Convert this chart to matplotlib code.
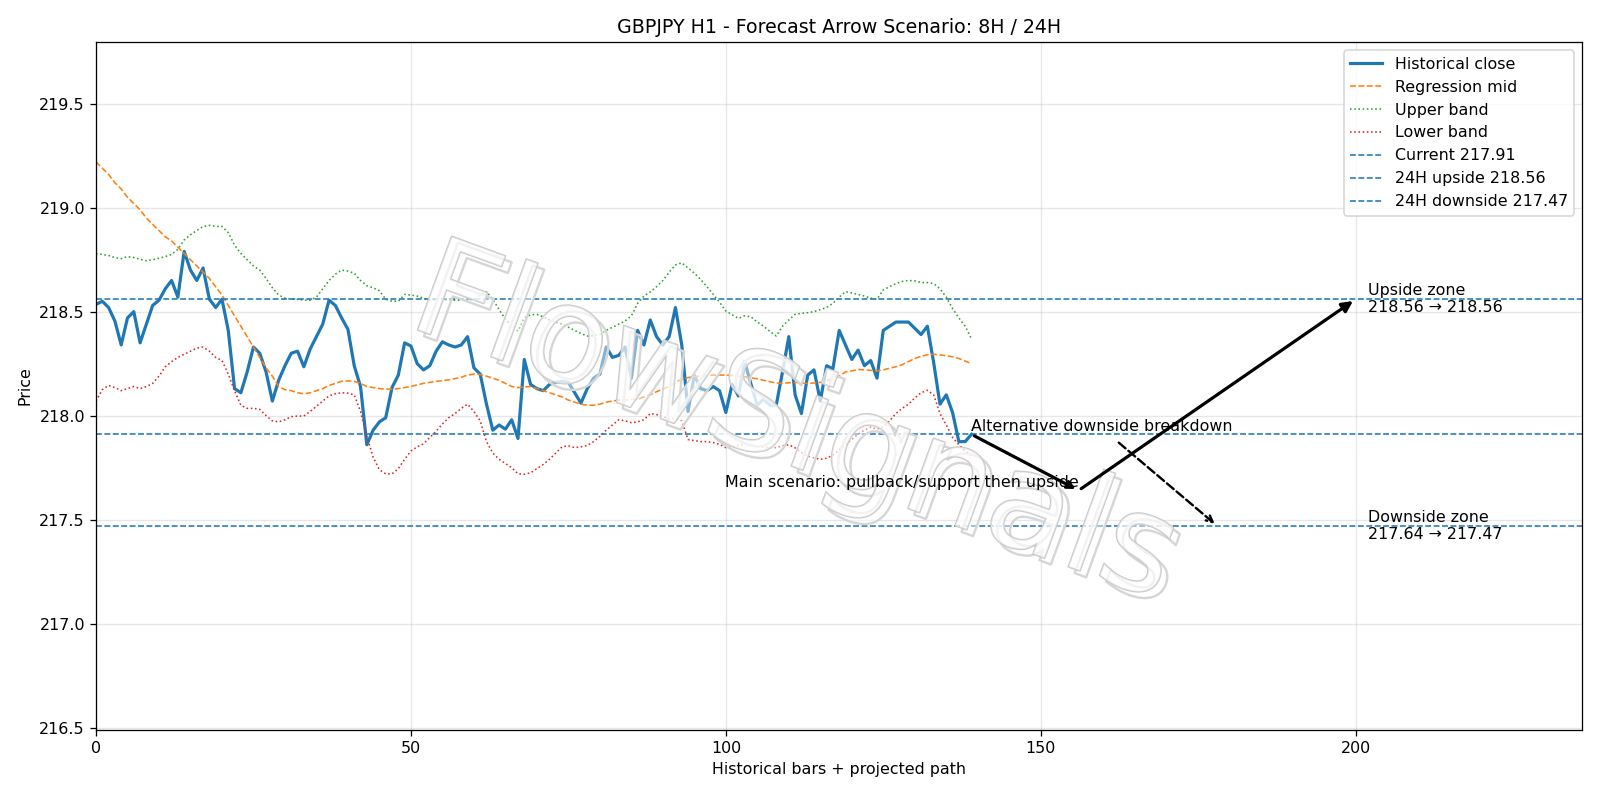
import matplotlib
matplotlib.use("Agg")
import matplotlib.pyplot as plt
import matplotlib.patheffects as pe

# 历史收盘价 (140 根 H1 K线)
close = [
    218.535, 218.55, 218.52, 218.455, 218.34, 218.47, 218.50, 218.35, 218.44, 218.53,
    218.555, 218.61, 218.65, 218.57, 218.79, 218.70, 218.65, 218.71, 218.56, 218.52,
    218.56, 218.41, 218.13, 218.11, 218.21, 218.33, 218.30, 218.21, 218.07, 218.17,
    218.24, 218.30, 218.31, 218.235, 218.32, 218.38, 218.44, 218.555, 218.53, 218.47,
    218.415, 218.24, 218.14, 217.86, 217.93, 217.97, 217.99, 218.135, 218.195, 218.35,
    218.335, 218.25, 218.22, 218.24, 218.31, 218.355, 218.34, 218.33, 218.34, 218.38,
    218.23, 218.20, 218.055, 217.93, 217.955, 217.935, 217.98, 217.89, 218.27, 218.15,
    218.13, 218.12, 218.15, 218.16, 218.165, 218.16, 218.11, 218.06, 218.13, 218.18,
    218.20, 218.33, 218.28, 218.29, 218.33, 218.18, 218.41, 218.34, 218.46, 218.38,
    218.34, 218.38, 218.52, 218.34, 218.02, 218.195, 218.13, 218.12, 218.14, 218.12,
    218.015, 218.15, 218.095, 218.26, 218.15, 218.05, 218.08, 218.05, 218.05, 218.21,
    218.38, 218.10, 218.01, 218.195, 218.22, 218.07, 218.24, 218.225, 218.41, 218.34,
    218.27, 218.315, 218.24, 218.265, 218.18, 218.41, 218.43, 218.45, 218.45, 218.45,
    218.42, 218.39, 218.43, 218.255, 218.055, 218.10, 218.015, 217.875, 217.875, 217.91,
]

reg_mid = [
    219.22, 219.19, 219.16, 219.12, 219.09, 219.05, 219.02, 218.99, 218.95, 218.92,
    218.89, 218.86, 218.84, 218.81, 218.78, 218.75, 218.72, 218.69, 218.66, 218.62,
    218.58, 218.53, 218.48, 218.43, 218.38, 218.33, 218.28, 218.23, 218.19, 218.14,
    218.125, 218.12, 218.11, 218.105, 218.11, 218.12, 218.13, 218.145, 218.155, 218.165,
    218.167, 218.165, 218.155, 218.14, 218.135, 218.13, 218.128, 218.127, 218.13, 218.135,
    218.14, 218.148, 218.155, 218.16, 218.165, 218.168, 218.172, 218.178, 218.185, 218.195,
    218.20, 218.198, 218.19, 218.18, 218.17, 218.155, 218.14, 218.135, 218.138, 218.14,
    218.13, 218.12, 218.11, 218.10, 218.09, 218.075, 218.065, 218.055, 218.05, 218.05,
    218.055, 218.065, 218.07, 218.075, 218.075, 218.078, 218.08, 218.09, 218.10, 218.115,
    218.128, 218.14, 218.16, 218.175, 218.183, 218.188, 218.19, 218.193, 218.195, 218.195,
    218.195, 218.193, 218.19, 218.187, 218.182, 218.177, 218.17, 218.163, 218.157, 218.155,
    218.158, 218.16, 218.157, 218.155, 218.157, 218.16, 218.168, 218.178, 218.19, 218.21,
    218.215, 218.222, 218.22, 218.218, 218.215, 218.22, 218.228, 218.235, 218.245, 218.26,
    218.275, 218.285, 218.293, 218.295, 218.292, 218.288, 218.283, 218.275, 218.262, 218.25,
]

upper_band = [
    218.78, 218.775, 218.77, 218.76, 218.755, 218.765, 218.76, 218.752, 218.745, 218.75,
    218.757, 218.765, 218.775, 218.80, 218.845, 218.87, 218.89, 218.91, 218.915, 218.91,
    218.91, 218.88, 218.82, 218.78, 218.75, 218.72, 218.70, 218.66, 218.615, 218.58,
    218.565, 218.56, 218.56, 218.555, 218.555, 218.57, 218.61, 218.65, 218.68, 218.70,
    218.695, 218.685, 218.65, 218.625, 218.615, 218.60, 218.56, 218.55, 218.55, 218.583,
    218.58, 218.575, 218.565, 218.555, 218.56, 218.56, 218.555, 218.555, 218.555, 218.555,
    218.56, 218.58, 218.596, 218.56, 218.51, 218.465, 218.43, 218.407, 218.47, 218.485,
    218.487, 218.475, 218.46, 218.45, 218.44, 218.425, 218.41, 218.395, 218.383, 218.385,
    218.39, 218.41, 218.425, 218.44, 218.455, 218.48, 218.54, 218.575, 218.595, 218.62,
    218.65, 218.69, 218.725, 218.735, 218.71, 218.685, 218.655, 218.62, 218.583, 218.545,
    218.503, 218.485, 218.468, 218.48, 218.475, 218.45, 218.43, 218.405, 218.383, 218.43,
    218.46, 218.487, 218.492, 218.495, 218.50, 218.51, 218.52, 218.54, 218.57, 218.596,
    218.59, 218.583, 218.575, 218.565, 218.56, 218.605, 218.62, 218.635, 218.645, 218.65,
    218.648, 218.64, 218.64, 218.635, 218.61, 218.57, 218.515, 218.47, 218.43, 218.37,
]

lower_band = [
    218.07, 218.125, 218.145, 218.135, 218.12, 218.13, 218.14, 218.13, 218.14, 218.155,
    218.19, 218.235, 218.26, 218.28, 218.295, 218.31, 218.325, 218.33, 218.31, 218.28,
    218.265, 218.20, 218.12, 218.05, 218.035, 218.035, 218.03, 218.00, 217.975, 217.97,
    217.98, 217.995, 217.998, 217.998, 218.02, 218.045, 218.07, 218.095, 218.105, 218.11,
    218.108, 218.10, 218.02, 217.90, 217.80, 217.74, 217.72, 217.72, 217.745, 217.79,
    217.83, 217.85, 217.865, 217.895, 217.925, 217.96, 217.99, 218.01, 218.035, 218.055,
    218.02, 217.975, 217.875, 217.82, 217.79, 217.77, 217.75, 217.72, 217.718, 217.725,
    217.745, 217.765, 217.79, 217.82, 217.85, 217.855, 217.846, 217.85, 217.856, 217.875,
    217.90, 217.93, 217.955, 217.98, 217.975, 217.966, 217.97, 217.98, 218.01, 218.005,
    217.995, 217.985, 217.987, 217.975, 217.885, 217.88, 217.875, 217.875, 217.87, 217.862,
    217.846, 217.85, 217.858, 217.862, 217.855, 217.85, 217.848, 217.846, 217.846, 217.855,
    217.86, 217.845, 217.822, 217.805, 217.797, 217.79, 217.795, 217.81, 217.835, 217.86,
    217.885, 217.91, 217.93, 217.945, 217.935, 217.945, 217.975, 218.01, 218.035, 218.055,
    218.085, 218.11, 218.122, 218.10, 218.01, 217.955, 217.895, 217.86, 217.83, 217.806,
]

current_price = 217.91
upside_24h = 218.56
downside_24h = 217.47

# 投影路径 (主情景 与 备选情景)
main_path_x = [139, 156, 200]
main_path_y = [217.91, 217.64, 218.56]
alt_path_x = [162, 178]
alt_path_y = [217.88, 217.47]

upside_zone = (218.56, 218.56)
downside_zone = (217.64, 217.47)


def main():
    fig, ax = plt.subplots(figsize=(14, 7), dpi=1600 / 14)
    bars = list(range(len(close)))

    ax.plot(bars, close, color="tab:blue", lw=2, label="Historical close")
    ax.plot(bars, reg_mid, color="tab:orange", ls="--", lw=1, label="Regression mid")
    ax.plot(bars, upper_band, color="tab:green", ls=":", lw=1, label="Upper band")
    ax.plot(bars, lower_band, color="tab:red", ls=":", lw=1, label="Lower band")

    ax.axhline(current_price, color="tab:blue", ls="--", lw=1, label=f"Current {current_price:.2f}")
    ax.axhline(upside_24h, color="tab:blue", ls="--", lw=1, label=f"24H upside {upside_24h:.2f}")
    ax.axhline(downside_24h, color="tab:blue", ls="--", lw=1, label=f"24H downside {downside_24h:.2f}")

    # 水印
    ax.text(0.47, 0.44, "FlowSignals", transform=ax.transAxes, fontsize=86,
            ha="center", va="center", rotation=-20, rotation_mode="anchor",
            color=(1, 1, 1, 0.45), zorder=3,
            path_effects=[pe.Stroke(offset=(4, -4), linewidth=1.5, foreground=(0.84, 0.84, 0.84)),
                          pe.Stroke(linewidth=1.1, foreground=(0.78, 0.78, 0.78)),
                          pe.Normal()])

    # 主情景箭头
    ax.annotate("", xy=(main_path_x[1], main_path_y[1]), xytext=(main_path_x[0], main_path_y[0]),
                arrowprops=dict(arrowstyle="->", lw=2, color="black"), zorder=6)
    ax.annotate("", xy=(main_path_x[2], main_path_y[2]), xytext=(main_path_x[1], main_path_y[1]),
                arrowprops=dict(arrowstyle="-|>", lw=2, color="black", mutation_scale=14), zorder=6)
    # 备选情景 (虚线)
    ax.annotate("", xy=(alt_path_x[1], alt_path_y[1]), xytext=(alt_path_x[0], alt_path_y[0]),
                arrowprops=dict(arrowstyle="->", lw=1.5, ls="--", color="black"), zorder=6)

    ax.text(main_path_x[1], main_path_y[1], "Main scenario: pullback/support then upside",
            ha="right", va="bottom", zorder=6)
    ax.text(main_path_x[0], main_path_y[0], "Alternative downside breakdown",
            ha="left", va="bottom", zorder=6)
    ax.text(202, upside_24h, f"Upside zone\n{upside_zone[0]:.2f} → {upside_zone[1]:.2f}",
            ha="left", va="center", zorder=6)
    ax.text(202, downside_24h, f"Downside zone\n{downside_zone[0]:.2f} → {downside_zone[1]:.2f}",
            ha="left", va="center", zorder=6)

    ax.set_xlim(0, 236)
    ax.set_ylim(216.49, 219.795)
    ax.set_title("GBPJPY H1 - Forecast Arrow Scenario: 8H / 24H")
    ax.set_xlabel("Historical bars + projected path")
    ax.set_ylabel("Price")
    ax.grid(True, alpha=0.3)
    ax.legend(loc="upper right")

    fig.subplots_adjust(left=0.06, right=0.989, top=0.947, bottom=0.088)
    fig.savefig("out.png")


if __name__ == "__main__":
    main()
